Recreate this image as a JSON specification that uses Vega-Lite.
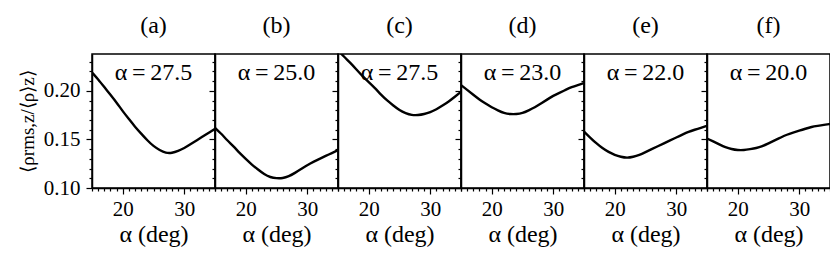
{
  "$schema": "https://vega.github.io/schema/vega-lite/v6.json",
  "padding": {"left": 17, "top": 13, "right": 1, "bottom": 5},
  "spacing": 0,
  "bounds": "flush",
  "datasets": {
    "curves": [
      {"p":"a","alpha":15,"r":0.219},{"p":"a","alpha":16,"r":0.212},{"p":"a","alpha":17,"r":0.204},{"p":"a","alpha":18,"r":0.196},{"p":"a","alpha":19,"r":0.188},{"p":"a","alpha":20,"r":0.179},{"p":"a","alpha":21,"r":0.171},{"p":"a","alpha":22,"r":0.163},{"p":"a","alpha":23,"r":0.156},{"p":"a","alpha":24,"r":0.149},{"p":"a","alpha":25,"r":0.143},{"p":"a","alpha":26,"r":0.139},{"p":"a","alpha":27,"r":0.136},{"p":"a","alpha":28,"r":0.136},{"p":"a","alpha":29,"r":0.138},{"p":"a","alpha":30,"r":0.141},{"p":"a","alpha":31,"r":0.145},{"p":"a","alpha":32,"r":0.149},{"p":"a","alpha":33,"r":0.153},{"p":"a","alpha":34,"r":0.157},{"p":"a","alpha":35,"r":0.161},
      {"p":"b","alpha":15,"r":0.162},{"p":"b","alpha":16,"r":0.156},{"p":"b","alpha":17,"r":0.149},{"p":"b","alpha":18,"r":0.143},{"p":"b","alpha":19,"r":0.136},{"p":"b","alpha":20,"r":0.130},{"p":"b","alpha":21,"r":0.124},{"p":"b","alpha":22,"r":0.119},{"p":"b","alpha":23,"r":0.114},{"p":"b","alpha":24,"r":0.111},{"p":"b","alpha":25,"r":0.110},{"p":"b","alpha":26,"r":0.110},{"p":"b","alpha":27,"r":0.112},{"p":"b","alpha":28,"r":0.1155},{"p":"b","alpha":29,"r":0.1195},{"p":"b","alpha":30,"r":0.1235},{"p":"b","alpha":31,"r":0.127},{"p":"b","alpha":32,"r":0.130},{"p":"b","alpha":33,"r":0.133},{"p":"b","alpha":34,"r":0.136},{"p":"b","alpha":35,"r":0.139},
      {"p":"c","alpha":15,"r":0.242},{"p":"c","alpha":16,"r":0.235},{"p":"c","alpha":17,"r":0.229},{"p":"c","alpha":18,"r":0.222},{"p":"c","alpha":19,"r":0.215},{"p":"c","alpha":20,"r":0.209},{"p":"c","alpha":21,"r":0.203},{"p":"c","alpha":22,"r":0.196},{"p":"c","alpha":23,"r":0.190},{"p":"c","alpha":24,"r":0.185},{"p":"c","alpha":25,"r":0.180},{"p":"c","alpha":26,"r":0.177},{"p":"c","alpha":27,"r":0.175},{"p":"c","alpha":28,"r":0.175},{"p":"c","alpha":29,"r":0.176},{"p":"c","alpha":30,"r":0.178},{"p":"c","alpha":31,"r":0.181},{"p":"c","alpha":32,"r":0.185},{"p":"c","alpha":33,"r":0.189},{"p":"c","alpha":34,"r":0.194},{"p":"c","alpha":35,"r":0.199},
      {"p":"d","alpha":15,"r":0.206},{"p":"d","alpha":16,"r":0.201},{"p":"d","alpha":17,"r":0.196},{"p":"d","alpha":18,"r":0.191},{"p":"d","alpha":19,"r":0.187},{"p":"d","alpha":20,"r":0.183},{"p":"d","alpha":21,"r":0.180},{"p":"d","alpha":22,"r":0.177},{"p":"d","alpha":23,"r":0.176},{"p":"d","alpha":24,"r":0.176},{"p":"d","alpha":25,"r":0.177},{"p":"d","alpha":26,"r":0.180},{"p":"d","alpha":27,"r":0.183},{"p":"d","alpha":28,"r":0.187},{"p":"d","alpha":29,"r":0.191},{"p":"d","alpha":30,"r":0.195},{"p":"d","alpha":31,"r":0.198},{"p":"d","alpha":32,"r":0.201},{"p":"d","alpha":33,"r":0.204},{"p":"d","alpha":34,"r":0.206},{"p":"d","alpha":35,"r":0.208},
      {"p":"e","alpha":15,"r":0.158},{"p":"e","alpha":16,"r":0.152},{"p":"e","alpha":17,"r":0.146},{"p":"e","alpha":18,"r":0.141},{"p":"e","alpha":19,"r":0.137},{"p":"e","alpha":20,"r":0.134},{"p":"e","alpha":21,"r":0.132},{"p":"e","alpha":22,"r":0.131},{"p":"e","alpha":23,"r":0.132},{"p":"e","alpha":24,"r":0.134},{"p":"e","alpha":25,"r":0.137},{"p":"e","alpha":26,"r":0.140},{"p":"e","alpha":27,"r":0.143},{"p":"e","alpha":28,"r":0.146},{"p":"e","alpha":29,"r":0.149},{"p":"e","alpha":30,"r":0.152},{"p":"e","alpha":31,"r":0.155},{"p":"e","alpha":32,"r":0.158},{"p":"e","alpha":33,"r":0.160},{"p":"e","alpha":34,"r":0.162},{"p":"e","alpha":35,"r":0.164},
      {"p":"f","alpha":15,"r":0.151},{"p":"f","alpha":16,"r":0.148},{"p":"f","alpha":17,"r":0.145},{"p":"f","alpha":18,"r":0.142},{"p":"f","alpha":19,"r":0.140},{"p":"f","alpha":20,"r":0.139},{"p":"f","alpha":21,"r":0.139},{"p":"f","alpha":22,"r":0.140},{"p":"f","alpha":23,"r":0.141},{"p":"f","alpha":24,"r":0.143},{"p":"f","alpha":25,"r":0.146},{"p":"f","alpha":26,"r":0.149},{"p":"f","alpha":27,"r":0.152},{"p":"f","alpha":28,"r":0.155},{"p":"f","alpha":29,"r":0.157},{"p":"f","alpha":30,"r":0.159},{"p":"f","alpha":31,"r":0.161},{"p":"f","alpha":32,"r":0.163},{"p":"f","alpha":33,"r":0.164},{"p":"f","alpha":34,"r":0.165},{"p":"f","alpha":35,"r":0.166}
    ],
    "labels": [
      {"p":"a","label":"α\u2009=\u200927.5"},{"p":"b","label":"α\u2009=\u200925.0"},{"p":"c","label":"α\u2009=\u200927.5"},
      {"p":"d","label":"α\u2009=\u200923.0"},{"p":"e","label":"α\u2009=\u200922.0"},{"p":"f","label":"α\u2009=\u200920.0"}
    ]
  },
  "hconcat": [
    {"title":"(a)","width":123,"height":134,"resolve":{"axis":{"x":"independent","y":"independent"}},
     "layer":[
      {"data":{"name":"curves"},"transform":[{"filter":"datum.p==='a'"}],"mark":{"type":"line","color":"black","strokeWidth":2.4,"interpolate":"basis","clip":true},
       "encoding":{"x":{"field":"alpha","type":"quantitative","scale":{"domain":[15,35],"nice":false},
          "axis":{"orient":"bottom","title":"α (deg)","values":[20,30],"tickSize":6}},
        "y":{"field":"r","type":"quantitative","scale":{"domain":[0.1,0.238],"nice":false,"zero":false},
          "axis":{"orient":"left","title":"⟨ρrms,z/⟨ρ⟩z⟩","values":[0.10,0.15,0.20],"format":".2f","tickSize":6}}}},
      {"data":{"name":"labels"},"transform":[{"filter":"datum.p==='a'"}],"mark":{"type":"text","font":"Liberation Serif","fontSize":24,"baseline":"middle","align":"center"},
       "encoding":{"x":{"datum":25,"type":"quantitative","scale":{"domain":[15,35],"nice":false},
          "axis":{"orient":"bottom","title":null,"labels":false,"domain":false,"values":[15,16,17,18,19,21,22,23,24,25,26,27,28,29,31,32,33,34,35],"tickSize":3}},
        "y":{"datum":0.2185,"type":"quantitative","scale":{"domain":[0.1,0.238],"nice":false,"zero":false},
          "axis":{"orient":"left","title":null,"labels":false,"domain":false,"values":[0.11,0.12,0.13,0.14,0.16,0.17,0.18,0.19,0.21,0.22,0.23],"tickSize":3}},
        "text":{"field":"label"}}}
     ]},
    {"title":"(b)","width":123,"height":134,"resolve":{"axis":{"x":"independent","y":"independent"}},
     "layer":[
      {"data":{"name":"curves"},"transform":[{"filter":"datum.p==='b'"}],"mark":{"type":"line","color":"black","strokeWidth":2.4,"interpolate":"basis","clip":true},
       "encoding":{"x":{"field":"alpha","type":"quantitative","scale":{"domain":[15,35],"nice":false},
          "axis":{"orient":"bottom","title":"α (deg)","values":[20,30],"tickSize":6}},
        "y":{"field":"r","type":"quantitative","scale":{"domain":[0.1,0.238],"nice":false,"zero":false},
          "axis":{"orient":"left","title":null,"labels":false,"values":[0.10,0.15,0.20],"tickSize":6}}}},
      {"data":{"name":"labels"},"transform":[{"filter":"datum.p==='b'"}],"mark":{"type":"text","font":"Liberation Serif","fontSize":24,"baseline":"middle","align":"center"},
       "encoding":{"x":{"datum":25,"type":"quantitative","scale":{"domain":[15,35],"nice":false},
          "axis":{"orient":"bottom","title":null,"labels":false,"domain":false,"values":[15,16,17,18,19,21,22,23,24,25,26,27,28,29,31,32,33,34,35],"tickSize":3}},
        "y":{"datum":0.2185,"type":"quantitative","scale":{"domain":[0.1,0.238],"nice":false,"zero":false},
          "axis":{"orient":"left","title":null,"labels":false,"domain":false,"values":[0.11,0.12,0.13,0.14,0.16,0.17,0.18,0.19,0.21,0.22,0.23],"tickSize":3}},
        "text":{"field":"label"}}}
     ]},
    {"title":"(c)","width":123,"height":134,"resolve":{"axis":{"x":"independent","y":"independent"}},
     "layer":[
      {"data":{"name":"curves"},"transform":[{"filter":"datum.p==='c'"}],"mark":{"type":"line","color":"black","strokeWidth":2.4,"interpolate":"basis","clip":true},
       "encoding":{"x":{"field":"alpha","type":"quantitative","scale":{"domain":[15,35],"nice":false},
          "axis":{"orient":"bottom","title":"α (deg)","values":[20,30],"tickSize":6}},
        "y":{"field":"r","type":"quantitative","scale":{"domain":[0.1,0.238],"nice":false,"zero":false},
          "axis":{"orient":"left","title":null,"labels":false,"values":[0.10,0.15,0.20],"tickSize":6}}}},
      {"data":{"name":"labels"},"transform":[{"filter":"datum.p==='c'"}],"mark":{"type":"text","font":"Liberation Serif","fontSize":24,"baseline":"middle","align":"center"},
       "encoding":{"x":{"datum":25,"type":"quantitative","scale":{"domain":[15,35],"nice":false},
          "axis":{"orient":"bottom","title":null,"labels":false,"domain":false,"values":[15,16,17,18,19,21,22,23,24,25,26,27,28,29,31,32,33,34,35],"tickSize":3}},
        "y":{"datum":0.2185,"type":"quantitative","scale":{"domain":[0.1,0.238],"nice":false,"zero":false},
          "axis":{"orient":"left","title":null,"labels":false,"domain":false,"values":[0.11,0.12,0.13,0.14,0.16,0.17,0.18,0.19,0.21,0.22,0.23],"tickSize":3}},
        "text":{"field":"label"}}}
     ]},
    {"title":"(d)","width":123,"height":134,"resolve":{"axis":{"x":"independent","y":"independent"}},
     "layer":[
      {"data":{"name":"curves"},"transform":[{"filter":"datum.p==='d'"}],"mark":{"type":"line","color":"black","strokeWidth":2.4,"interpolate":"basis","clip":true},
       "encoding":{"x":{"field":"alpha","type":"quantitative","scale":{"domain":[15,35],"nice":false},
          "axis":{"orient":"bottom","title":"α (deg)","values":[20,30],"tickSize":6}},
        "y":{"field":"r","type":"quantitative","scale":{"domain":[0.1,0.238],"nice":false,"zero":false},
          "axis":{"orient":"left","title":null,"labels":false,"values":[0.10,0.15,0.20],"tickSize":6}}}},
      {"data":{"name":"labels"},"transform":[{"filter":"datum.p==='d'"}],"mark":{"type":"text","font":"Liberation Serif","fontSize":24,"baseline":"middle","align":"center"},
       "encoding":{"x":{"datum":25,"type":"quantitative","scale":{"domain":[15,35],"nice":false},
          "axis":{"orient":"bottom","title":null,"labels":false,"domain":false,"values":[15,16,17,18,19,21,22,23,24,25,26,27,28,29,31,32,33,34,35],"tickSize":3}},
        "y":{"datum":0.2185,"type":"quantitative","scale":{"domain":[0.1,0.238],"nice":false,"zero":false},
          "axis":{"orient":"left","title":null,"labels":false,"domain":false,"values":[0.11,0.12,0.13,0.14,0.16,0.17,0.18,0.19,0.21,0.22,0.23],"tickSize":3}},
        "text":{"field":"label"}}}
     ]},
    {"title":"(e)","width":123,"height":134,"resolve":{"axis":{"x":"independent","y":"independent"}},
     "layer":[
      {"data":{"name":"curves"},"transform":[{"filter":"datum.p==='e'"}],"mark":{"type":"line","color":"black","strokeWidth":2.4,"interpolate":"basis","clip":true},
       "encoding":{"x":{"field":"alpha","type":"quantitative","scale":{"domain":[15,35],"nice":false},
          "axis":{"orient":"bottom","title":"α (deg)","values":[20,30],"tickSize":6}},
        "y":{"field":"r","type":"quantitative","scale":{"domain":[0.1,0.238],"nice":false,"zero":false},
          "axis":{"orient":"left","title":null,"labels":false,"values":[0.10,0.15,0.20],"tickSize":6}}}},
      {"data":{"name":"labels"},"transform":[{"filter":"datum.p==='e'"}],"mark":{"type":"text","font":"Liberation Serif","fontSize":24,"baseline":"middle","align":"center"},
       "encoding":{"x":{"datum":25,"type":"quantitative","scale":{"domain":[15,35],"nice":false},
          "axis":{"orient":"bottom","title":null,"labels":false,"domain":false,"values":[15,16,17,18,19,21,22,23,24,25,26,27,28,29,31,32,33,34,35],"tickSize":3}},
        "y":{"datum":0.2185,"type":"quantitative","scale":{"domain":[0.1,0.238],"nice":false,"zero":false},
          "axis":{"orient":"left","title":null,"labels":false,"domain":false,"values":[0.11,0.12,0.13,0.14,0.16,0.17,0.18,0.19,0.21,0.22,0.23],"tickSize":3}},
        "text":{"field":"label"}}}
     ]},
    {"title":"(f)","width":123,"height":134,"resolve":{"axis":{"x":"independent","y":"independent"}},
     "layer":[
      {"data":{"name":"curves"},"transform":[{"filter":"datum.p==='f'"}],"mark":{"type":"line","color":"black","strokeWidth":2.4,"interpolate":"basis","clip":true},
       "encoding":{"x":{"field":"alpha","type":"quantitative","scale":{"domain":[15,35],"nice":false},
          "axis":{"orient":"bottom","title":"α (deg)","values":[20,30],"tickSize":6}},
        "y":{"field":"r","type":"quantitative","scale":{"domain":[0.1,0.238],"nice":false,"zero":false},
          "axis":{"orient":"left","title":null,"labels":false,"values":[0.10,0.15,0.20],"tickSize":6}}}},
      {"data":{"name":"labels"},"transform":[{"filter":"datum.p==='f'"}],"mark":{"type":"text","font":"Liberation Serif","fontSize":24,"baseline":"middle","align":"center"},
       "encoding":{"x":{"datum":25,"type":"quantitative","scale":{"domain":[15,35],"nice":false},
          "axis":{"orient":"bottom","title":null,"labels":false,"domain":false,"values":[15,16,17,18,19,21,22,23,24,25,26,27,28,29,31,32,33,34,35],"tickSize":3}},
        "y":{"datum":0.2185,"type":"quantitative","scale":{"domain":[0.1,0.238],"nice":false,"zero":false},
          "axis":{"orient":"left","title":null,"labels":false,"domain":false,"values":[0.11,0.12,0.13,0.14,0.16,0.17,0.18,0.19,0.21,0.22,0.23],"tickSize":3}},
        "text":{"field":"label"}}}
     ]}
  ],
  "config": {
    "view": {"stroke": "black", "strokeWidth": 1.5},
    "font": "Liberation Serif",
    "title": {"fontSize": 24, "font": "Liberation Serif", "fontWeight": "normal", "color": "black", "offset": 16},
    "axis": {"grid": false, "domainColor": "black", "domainWidth": 1.5, "tickColor": "black", "tickWidth": 1.2,
             "labelFont": "Liberation Serif", "labelFontSize": 21, "labelColor": "black", "labelPadding": 4, "labelOverlap": false,
             "titleFont": "Liberation Serif", "titleFontSize": 24, "titleFontWeight": "normal", "titleColor": "black", "titlePadding": 3},
    "axisY": {"titleFontSize": 19, "labelPadding": 6, "titlePadding": 6}
  }
}
